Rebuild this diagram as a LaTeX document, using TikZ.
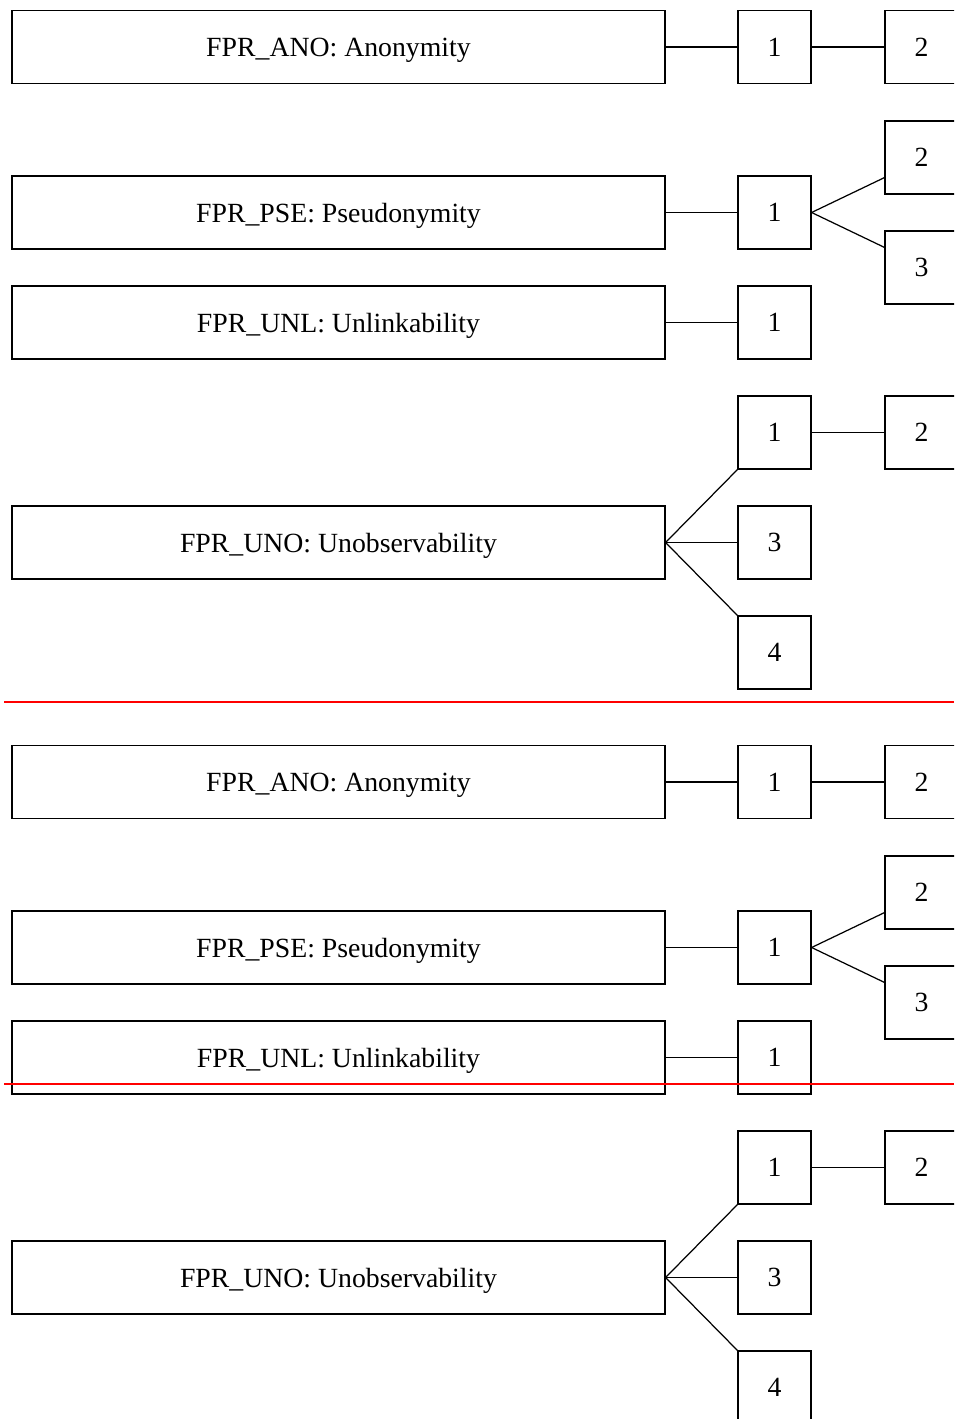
\documentclass[tikz,border=0pt]{standalone}
\usepackage{fontspec}
\setmainfont{Liberation Serif}
\tikzset{bigbox/.style={draw,minimum width=13.06cm,minimum height=1.46cm,inner sep=0pt,text depth=0pt,font=\fontsize{15.8}{18}\selectfont},
numbox/.style={draw,minimum width=1.46cm,minimum height=1.46cm,inner sep=0pt,text depth=0pt,font=\fontsize{15.8}{18}\selectfont}}
\begin{document}
\begin{tikzpicture}[x=0.02cm,y=-0.02cm,line width=0.7pt]
\useasboundingbox (0,0) rectangle (954,1419);
\clip (0,0) rectangle (954,1419);
\foreach \g/\off in {a/0,b/735}{
\begin{scope}[shift={(0,\off)}]
% anonymity
\node[bigbox] (ano\g) at (338.5,47) {FPR\_ANO: Anonymity};
\node[numbox] (anoa\g) at (774.5,47) {1};\node[numbox] (anob\g) at (921.5,47) {2};
\draw (ano\g) -- (anoa\g);\draw (anoa\g) -- (anob\g);
% pseudonymity
\node[bigbox] (pse\g) at (338.5,212.5) {FPR\_PSE: Pseudonymity};
\node[numbox] (psea\g) at (774.5,212.5) {1};
\node[numbox] (pseb\g) at (921.5,157.5) {2};\node[numbox] (psec\g) at (921.5,267.5) {3};
\draw (pse\g) -- (psea\g);
\draw (psea\g.east) -- ([yshift=0.34cm]pseb\g.south west);\draw (psea\g.east) -- ([yshift=-0.34cm]psec\g.north west);
% unlinkability
\node[bigbox] (unl\g) at (338.5,322.5) {FPR\_UNL: Unlinkability};
\node[numbox] (unla\g) at (774.5,322.5) {1};
\draw (unl\g) -- (unla\g);
% unobservability
\node[bigbox] (uno\g) at (338.5,542.5) {FPR\_UNO: Unobservability};
\node[numbox] (unoa\g) at (774.5,432.5) {1};\node[numbox] (unob\g) at (921.5,432.5) {2};
\node[numbox] (unoc\g) at (774.5,542.5) {3};\node[numbox] (unod\g) at (774.5,652.5) {4};
\draw (unoa\g) -- (unob\g);
\draw (uno\g.east) -- (unoa\g.south west);\draw (uno\g) -- (unoc\g);\draw (uno\g.east) -- (unod\g.north west);
\end{scope}
}
\draw[red,line width=1.1pt] (4,702) -- (954,702);
\draw[red,line width=1.1pt] (4,1084) -- (954,1084);
\end{tikzpicture}
\end{document}
